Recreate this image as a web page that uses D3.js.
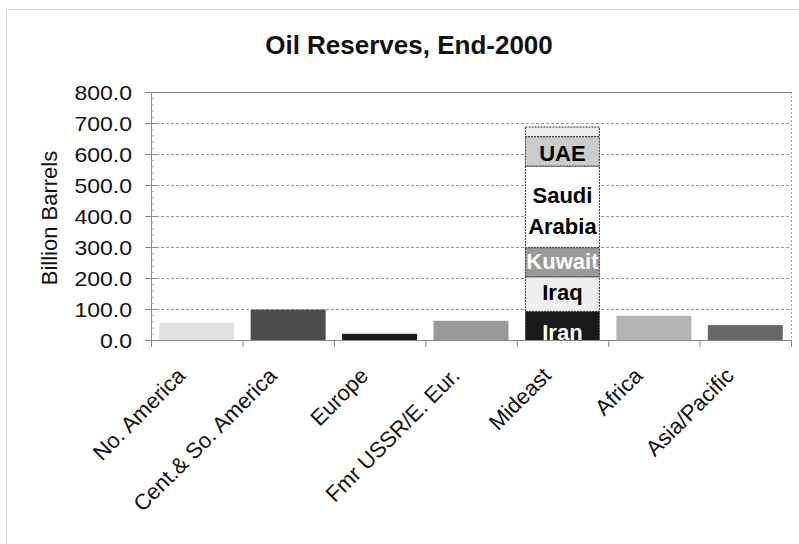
<!DOCTYPE html>
<html>
<head>
<meta charset="utf-8">
<script src="https://cdn.jsdelivr.net/npm/d3@7"></script>
<style>
	body { margin: 0; background: #fff; }
	svg { display: block; font-family: "Liberation Sans", Arial, sans-serif; }
</style>
</head>
<body>
<svg id="chart" width="799" height="544"></svg>
<script>
//
// Oil reserves by region, end of 2000, with the Mideast bar split by country
//
const regions = ["No. America", "Cent.& So. America", "Europe", "Fmr USSR/E. Eur.", "Mideast", "Africa", "Asia/Pacific"];
const regionValues = [56, 98, 20, 62, null, 78, 48];
const regionColors = ["#e0e0e0", "#4d4d4d", "#1a1a1a", "#999999", null, "#b3b3b3", "#666666"];

const mideastCountries = ["Iran", "Iraq", "Kuwait", "Saudi Arabia", "UAE", "Other"];
const mideastValues = [92, 112, 94, 263, 95, 31];
const mideastColors = ["#1a1a1a", "#eeeeee", "#999999", "#ffffff", "#cccccc", "#eeeeee"];
const mideastTextColors = ["#fff", "#000", "#fff", "#000", "#000", null];
const mideastLabelDy = [6, -2, -1, 4, 2, 0];

const yTicks = [0, 100, 200, 300, 400, 500, 600, 700, 800];

const svg = d3.select("#chart");
const plotLeft = 151, plotRight = 791, plotTop = 92, plotBottom = 340;
const squash = 0.85;

// outer chart border
svg.append("rect")
	.attr("x", 6.5).attr("y", 9.5)
	.attr("width", 900).attr("height", 700)
	.style("fill", "none")
	.style("stroke", "#bbb")
	.style("stroke-dasharray", "1 1");

svg.append("text")
	.attr("x", 409).attr("y", 54)
	.attr("text-anchor", "middle")
	.text("Oil Reserves, End-2000")
	.style("font-size", "26px")
	.style("font-weight", "bold")
	.style("fill", "#111");

const x = d3.scaleBand().domain(regions).range([plotLeft, plotRight]).paddingInner(0.18).paddingOuter(0.09);
const y = d3.scaleLinear().domain([0, 800]).range([plotBottom, plotTop]);
const step = x.step();

// gridlines
svg.append("g")
	.selectAll("line")
	.data(yTicks.filter((d) => d > 0))
	.enter()
	.append("line")
	.attr("x1", plotLeft).attr("x2", plotRight)
	.attr("y1", (d) => y(d) + 0.5).attr("y2", (d) => y(d) + 0.5)
	.style("stroke", (d) => (d === 800 ? "#888" : "#999"))
	.style("stroke-dasharray", (d) => (d === 800 ? null : "3 2"));

// right plot border
svg.append("line")
	.attr("x1", plotRight + 0.5).attr("x2", plotRight + 0.5)
	.attr("y1", plotTop).attr("y2", plotBottom)
	.style("stroke", "#999")
	.style("stroke-dasharray", "2 2");

// simple bars
svg.append("g")
	.selectAll("rect")
	.data(regions.map((r, i) => ({ r, v: regionValues[i], c: regionColors[i] })).filter((d) => d.v != null))
	.enter()
	.append("rect")
	.attr("x", (d) => x(d.r))
	.attr("width", x.bandwidth())
	.attr("y", (d) => y(d.v))
	.attr("height", (d) => y(0) - y(d.v))
	.style("fill", (d) => d.c);

// Mideast stack
const stackData = [];
let acc = 0;
mideastCountries.forEach((name, i) => {
	stackData.push({
		name,
		y0: acc,
		y1: acc + mideastValues[i],
		fill: mideastColors[i],
		tc: mideastTextColors[i],
		dy: mideastLabelDy[i],
	});
	acc += mideastValues[i];
});

const mg = svg.append("g");
mg.selectAll("rect")
	.data(stackData)
	.enter()
	.append("rect")
	.attr("x", x("Mideast") + 0.5)
	.attr("width", x.bandwidth() - 1)
	.attr("y", (d) => y(d.y1))
	.attr("height", (d) => y(d.y0) - y(d.y1))
	.style("fill", (d) => d.fill)
	.style("stroke", "#333")
	.style("stroke-width", 1)
	.style("stroke-dasharray", "2 1");

const cx = x("Mideast") + x.bandwidth() / 2;
mg.selectAll("text")
	.data(stackData.filter((d) => d.tc))
	.enter()
	.append("text")
	.attr("x", cx)
	.attr("text-anchor", "middle")
	.style("font-size", "22px")
	.style("font-weight", "bold")
	.style("fill", (d) => d.tc)
	.each(function (d) {
		const words = d.name.split(" ");
		const mid = (y(d.y0) + y(d.y1)) / 2;
		const lh = 31;
		const t = d3.select(this);
		words.forEach((w, k) => {
			t.append("tspan")
				.attr("x", cx)
				.attr("y", mid + 8 + d.dy + (k - (words.length - 1) / 2) * lh)
				.text(w);
		});
	});

// y axis
const yAxis = svg.append("g");
yAxis.append("line")
	.attr("x1", plotLeft + 0.5).attr("x2", plotLeft + 0.5)
	.attr("y1", plotTop).attr("y2", plotBottom)
	.style("stroke", "#888");
yAxis.selectAll("line.minor")
	.data(d3.range(0, 800, 20))
	.enter()
	.append("line")
	.attr("class", "minor")
	.attr("x1", plotLeft).attr("x2", plotLeft + 3)
	.attr("y1", (d) => y(d) + 0.5).attr("y2", (d) => y(d) + 0.5)
	.style("stroke", "#aaa");
yAxis.selectAll("line.tick")
	.data(yTicks)
	.enter()
	.append("line")
	.attr("class", "tick")
	.attr("x1", plotLeft - 6).attr("x2", plotLeft + 5)
	.attr("y1", (d) => y(d) + 0.5).attr("y2", (d) => y(d) + 0.5)
	.style("stroke", "#888");
yAxis.selectAll("text")
	.data(yTicks)
	.enter()
	.append("text")
	.attr("transform", (d) => `translate(${plotLeft - 19},${y(d) + 7.5}) scale(1,${squash})`)
	.attr("text-anchor", "end")
	.text(d3.format(".1f"))
	.style("font-size", "23px")
	.style("fill", "#111");

svg.append("text")
	.attr("transform", "translate(57,218) rotate(-90)")
	.attr("text-anchor", "middle")
	.text("Billion Barrels")
	.style("font-size", "22px")
	.style("fill", "#111");

// x axis
svg.append("line")
	.attr("x1", plotLeft).attr("x2", plotRight)
	.attr("y1", plotBottom + 0.5).attr("y2", plotBottom + 0.5)
	.style("stroke", "#888");
svg.append("g")
	.selectAll("line")
	.data(d3.range(regions.length + 1))
	.enter()
	.append("line")
	.attr("x1", (i) => plotLeft + i * step + 0.5).attr("x2", (i) => plotLeft + i * step + 0.5)
	.attr("y1", plotBottom).attr("y2", plotBottom + 7)
	.style("stroke", "#888");
svg.append("g")
	.selectAll("text")
	.data(regions)
	.enter()
	.append("text")
	.attr("transform", (d) => `translate(${x(d) + x.bandwidth() / 2 - 10},${plotBottom + 37}) rotate(-45)`)
	.attr("text-anchor", "end")
	.text((d) => d)
	.style("font-size", "22px")
	.style("fill", "#111");
</script>
</body>
</html>
